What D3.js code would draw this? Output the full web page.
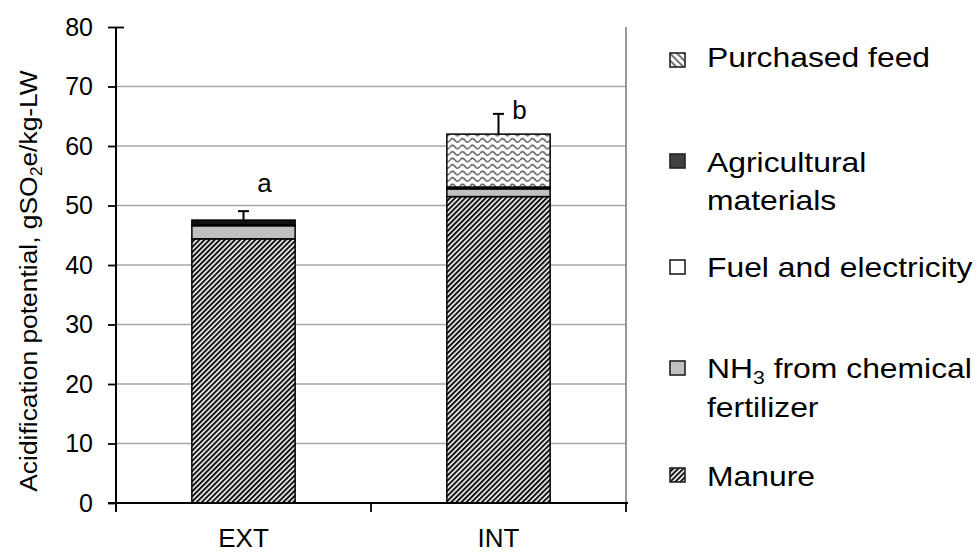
<!DOCTYPE html>
<html><head><meta charset="utf-8">
<script src="https://cdn.jsdelivr.net/npm/d3@7"></script>
<style>
html,body{margin:0;padding:0;background:#fff;}
svg{display:block;font-family:"Liberation Sans",Arial,sans-serif;}
</style></head>
<body><svg id="chart" width="977" height="557"></svg>
<script>
// ---- data ----
const categories = ["EXT", "INT"];
const manure = [44.4, 51.5];
const nh3Fert = [2.2, 1.3];
const fuelElec = [0.15, 0.1];
const agriMat = [0.8, 0.2];
const purchFeed = [0, 8.9];
const errUpper = [1.5, 3.4];
const sigLetters = ["a", "b"];
const sigLetterY = [52.3, 64.5];
const yTicks = [0, 10, 20, 30, 40, 50, 60, 70, 80];
const legendLabels = [["Purchased feed"], ["Agricultural", "materials"], ["Fuel and electricity"], ["NH|3| from chemical", "fertilizer"], ["Manure"]];
const legendKeys = ["feed", "agri", "fuel", "nh3", "manure"];

// ---- setup ----
const svg = d3.select("#chart");
const mLeft = 116, mRight = 626, mTop = 27, mBottom = 503;
const x = d3.scaleBand().domain(categories).range([mLeft, mRight]).paddingInner(0.595).paddingOuter(0.2975);
const y = d3.scaleLinear().domain([0, 80]).range([mBottom, mTop]);

const defs = svg.append("defs");
const hatch = defs.append("pattern").attr("id", "manurePat").attr("patternUnits", "userSpaceOnUse")
  .attr("width", 3.6).attr("height", 3.6).attr("patternTransform", "rotate(45)");
hatch.append("rect").attr("width", 3.6).attr("height", 3.6).attr("fill", "#fff");
hatch.append("line").attr("x1", 1).attr("x2", 1).attr("y1", 0).attr("y2", 3.6).attr("stroke", "#111").attr("stroke-width", 2.1);

const wave = defs.append("pattern").attr("id", "feedPat").attr("patternUnits", "userSpaceOnUse")
  .attr("width", 10).attr("height", 6.5);
wave.append("rect").attr("width", 10).attr("height", 6.5).attr("fill", "#fff");
wave.append("path").attr("d", "M0,4 Q2.5,0.5 5,4 T10,4").attr("fill", "none").attr("stroke", "#5e5e5e").attr("stroke-width", 1.5);

const wave2 = defs.append("pattern").attr("id", "feedPatSmall").attr("patternUnits", "userSpaceOnUse")
  .attr("width", 5).attr("height", 5).attr("patternTransform", "rotate(-45)");
wave2.append("rect").attr("width", 5).attr("height", 5).attr("fill", "#fff");
wave2.append("line").attr("x1", 1).attr("x2", 1).attr("y1", 0).attr("y2", 5).attr("stroke", "#444").attr("stroke-width", 1.5);

const fills = {manure: "url(#manurePat)", nh3: "#c0c0c0", fuel: "#ffffff", agri: "#111", feed: "url(#feedPat)"};
const legendFills = {manure: "url(#manurePat)", nh3: "#c0c0c0", fuel: "#ffffff", agri: "#404040", feed: "url(#feedPatSmall)"};

// gridlines
svg.append("g").selectAll("line").data(yTicks.filter(t => t > 0 && t < 80)).join("line")
  .attr("x1", mLeft).attr("x2", mRight).attr("y1", d => y(d)).attr("y2", d => y(d))
  .attr("stroke", "#a6a6a6").attr("stroke-width", 1.6);
// right border
svg.append("line").attr("x1", mRight).attr("x2", mRight).attr("y1", y(80)).attr("y2", y(0))
  .attr("stroke", "#808080").attr("stroke-width", 1.6);

// stacked bars
const table = categories.map((c, i) => ({cat: c, manure: manure[i], nh3: nh3Fert[i], fuel: fuelElec[i], agri: agriMat[i], feed: purchFeed[i]}));
const keys = ["manure", "nh3", "fuel", "agri", "feed"];
const stack = d3.stack().keys(keys)(table);
svg.append("g").selectAll("g").data(stack).join("g")
  .attr("fill", d => fills[d.key])
  .selectAll("rect").data(d => d.filter(s => s[1] - s[0] > 0)).join("rect")
  .attr("x", d => x(d.data.cat)).attr("width", x.bandwidth())
  .attr("y", d => y(d[1])).attr("height", d => y(d[0]) - y(d[1]))
  .attr("stroke", "#000").attr("stroke-width", 1.5);

// error bars
const totals = table.map(d => keys.reduce((s, k) => s + d[k], 0));
const eb = svg.append("g").attr("stroke", "#000").attr("stroke-width", 2);
categories.forEach((c, i) => {
  const cx = x(c) + x.bandwidth() / 2;
  eb.append("line").attr("x1", cx).attr("x2", cx).attr("y1", y(totals[i])).attr("y2", y(totals[i] + errUpper[i]));
  eb.append("line").attr("x1", cx - 5.5).attr("x2", cx + 5.5).attr("y1", y(totals[i] + errUpper[i])).attr("y2", y(totals[i] + errUpper[i]));
});

// significance letters
svg.append("g").selectAll("text").data(sigLetters).join("text")
  .attr("x", (d, i) => x(categories[i]) + x.bandwidth() / 2 + 21)
  .attr("y", (d, i) => y(sigLetterY[i]))
  .attr("text-anchor", "middle").attr("font-size", 26).attr("fill", "#000").text(d => d);

// y axis
const yAxis = svg.append("g").attr("transform", `translate(${mLeft},0)`)
  .call(d3.axisLeft(y).tickValues(yTicks).tickSize(8).tickPadding(15));
yAxis.select(".domain").attr("stroke-width", 2).attr("d", `M0,${y(80)}V${y(0) + 8}`);
yAxis.selectAll(".tick line").attr("stroke-width", 1.8);
yAxis.selectAll(".tick").filter(d => d === 80).select("line").attr("x1", 8);
yAxis.selectAll(".tick text").attr("font-size", 25).attr("fill", "#000").attr("font-family", "Liberation Sans, Arial, sans-serif");

// x axis
const xAxis = svg.append("g").attr("transform", `translate(0,${mBottom})`)
  .call(d3.axisBottom(x).tickSize(0).tickPadding(26));
xAxis.select(".domain").attr("stroke-width", 2.2).attr("d", `M${mLeft - 8},0H${mRight + 2}`);
xAxis.selectAll(".tick text").attr("font-size", 26).attr("fill", "#000").attr("font-family", "Liberation Sans, Arial, sans-serif");
const bounds = d3.range(categories.length + 1).map(i => x.range()[0] + i * (x.range()[1] - x.range()[0]) / categories.length);
xAxis.append("g").selectAll("line").data(bounds).join("line")
  .attr("x1", d => d).attr("x2", d => d).attr("y1", 0).attr("y2", 9)
  .attr("stroke", "#000").attr("stroke-width", 1.8);

// y axis title
const yt = svg.append("text").attr("transform", `translate(37,281) rotate(-90) scale(1.1,1)`)
  .attr("text-anchor", "middle").attr("font-size", 24).attr("fill", "#000");
yt.append("tspan").text("Acidification potential, gSO");
yt.append("tspan").attr("font-size", 16).attr("dy", 5).text("2");
yt.append("tspan").attr("dy", -5).text("e/kg-LW");

// legend
const legBaselines = [[67], [172, 210], [277], [378, 417], [486]];
const legMarkerY = [60, 161, 267, 368, 475];
const leg = svg.append("g");
legendKeys.forEach((k, i) => {
  leg.append("rect").attr("x", 670).attr("y", legMarkerY[i] - 7).attr("width", 15).attr("height", 14)
    .attr("fill", legendFills[k]).attr("stroke", "#222").attr("stroke-width", 1.6);
  legendLabels[i].forEach((line, j) => {
    const t = leg.append("text").attr("transform", `translate(707,${legBaselines[i][j]}) scale(1.18,1)`)
      .attr("font-size", 27).attr("fill", "#000");
    const parts = line.split("|");
    if (parts.length === 1) t.text(line);
    else {
      t.append("tspan").text(parts[0]);
      t.append("tspan").attr("font-size", 18).attr("dy", 6).text(parts[1]);
      t.append("tspan").attr("dy", -6).text(parts[2]);
    }
  });
});
</script></body></html>
